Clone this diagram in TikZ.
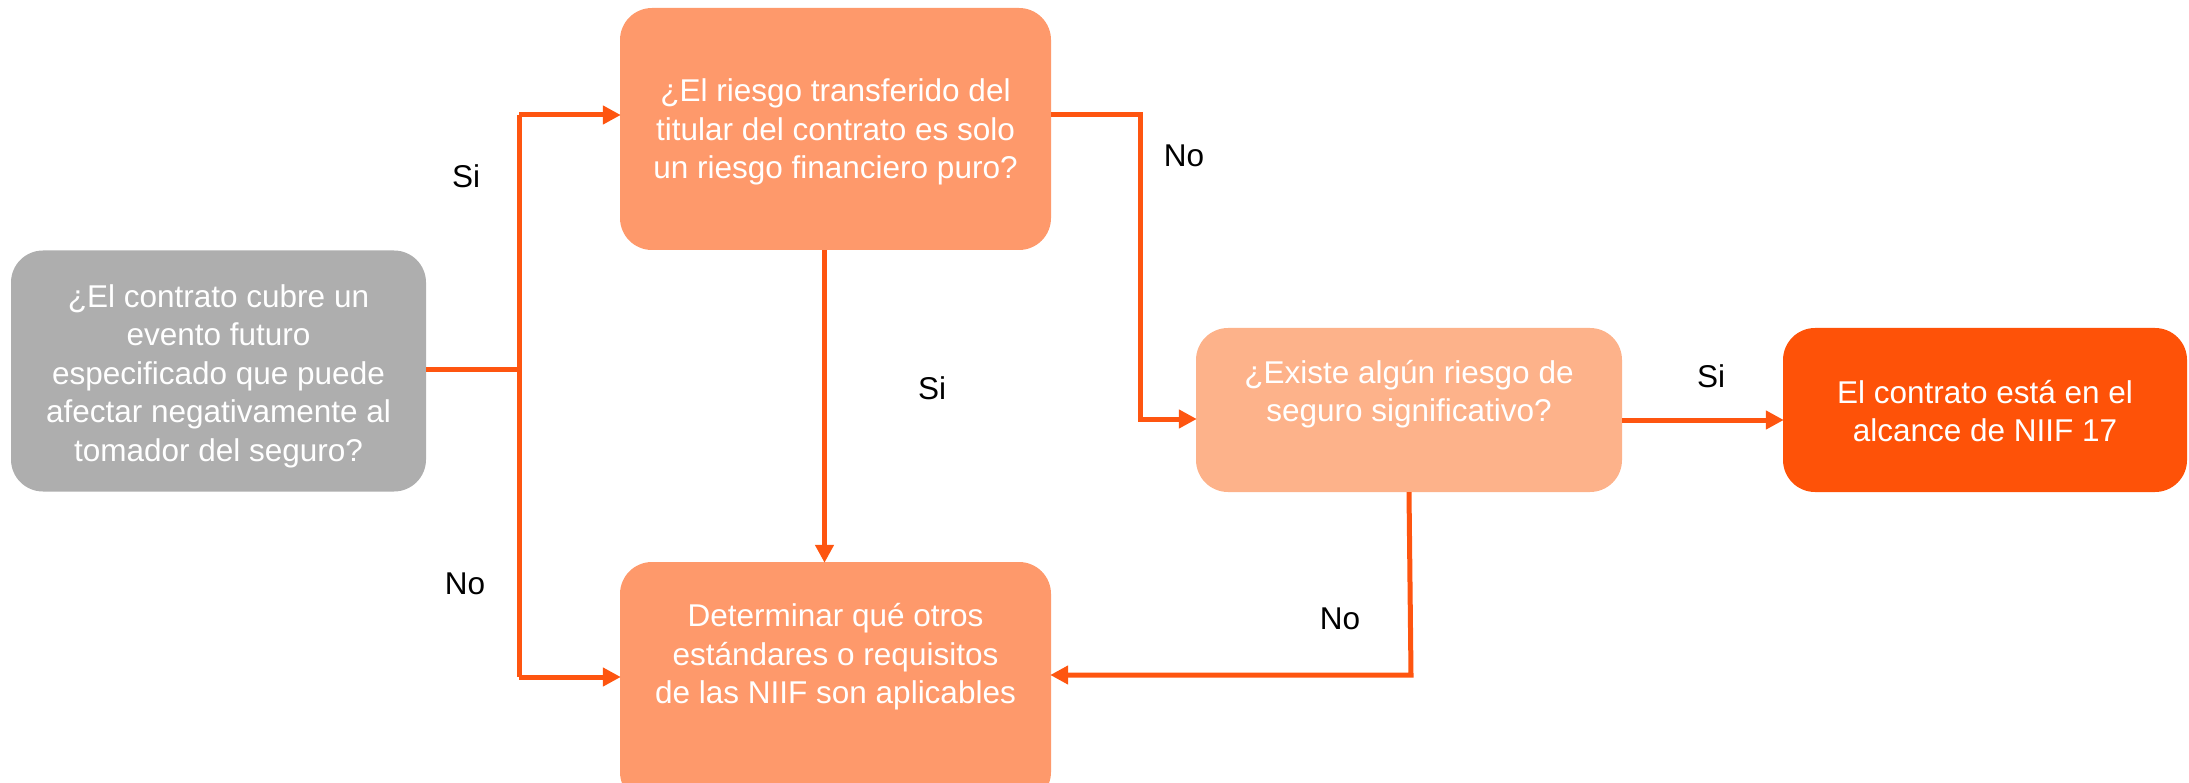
\documentclass[tikz,border=0pt]{standalone}
\usepackage{fontspec}
\setmainfont{Liberation Sans}
\usetikzlibrary{arrows.meta}
\definecolor{cgray}{HTML}{AEAEAE}
\definecolor{cmid}{HTML}{FE996B}
\definecolor{clight}{HTML}{FDB28A}
\definecolor{cstrong}{HTML}{FE5208}
\definecolor{cline}{HTML}{FE5510}
\tikzset{
  box/.style={rounded corners=32pt, inner sep=0pt, align=center, text=white,
    font=\fontsize{31.5}{38.5}\selectfont},
  txt/.style={align=center, text=white, font=\fontsize{31.5}{38.5}\selectfont},
  lbl/.style={font=\fontsize{31.5}{38}\selectfont, text=black},
  conn/.style={draw=cline, line width=5pt},
  arr/.style={conn, -{Triangle[length=18pt,width=18pt]}, shorten >=-1pt},
}
\begin{document}
\begin{tikzpicture}[x=1pt,y=-1pt]
\useasboundingbox (0,0) rectangle (2189,783);
\clip (0,0) rectangle (2189,783);
% boxes
\node[box, fill=cgray, minimum width=415pt, minimum height=241pt,
  label={[txt, yshift=-5pt]center:¿El contrato cubre un\\evento futuro\\especificado que puede\\afectar negativamente al\\tomador del seguro?}] (gray) at (218.5,371) {};
\node[box, fill=cmid, minimum width=431pt, minimum height=242pt,
  label={[txt, yshift=-3pt]center:¿El riesgo transferido del\\titular del contrato es solo\\un riesgo financiero puro?}] (top) at (835.5,129) {};
\node[box, fill=cmid, minimum width=431pt, minimum height=242pt,
  label={[txt, yshift=26pt]center:Determinar qué otros\\estándares o requisitos\\de las NIIF son aplicables}] (bot) at (835.5,683) {};
\node[box, fill=clight, minimum width=426pt, minimum height=164pt,
  label={[txt, yshift=16pt]center:¿Existe algún riesgo de\\seguro significativo?}] (mid) at (1409,410) {};
\node[box, fill=cstrong, minimum width=404pt, minimum height=164pt,
  label={[txt, yshift=-1pt]center:El contrato está en el\\alcance de NIIF 17}] (fin) at (1985,410) {};
% connectors
\coordinate (j) at (519,369);
\coordinate (jt) at (519,115);
\coordinate (jb) at (519,677);
\coordinate (rt) at (1140,115);
\coordinate (rb) at (1140,419);
\coordinate (mb) at (1411,675);
\coordinate (me) at (1622,420);
\draw[conn] (gray.east |- j) -- (j);
\draw[conn] (jt) -- (jb);
\draw[arr] (jt) -- (jt -| top.west);
\draw[arr] (jb) -- (jb -| bot.west);
\draw[arr] ([xshift=-11pt]top.south) -- ([xshift=-11pt]top.south |- bot.north);
\draw[arr] (rt -| top.east) -- (rt) -- (rb) -- (rb -| mid.west);
\draw[arr] (mid.south) -- (mb) -- (mb -| bot.east);
\draw[arr] (me) -- (me -| fin.west);
% labels
\node[lbl] (l1) at (466,176) {Si};
\node[lbl] (l2) at (465,584) {No};
\node[lbl] (l3) at (932,388) {Si};
\node[lbl] (l4) at (1184,156) {No};
\node[lbl] (l5) at (1711,376) {Si};
\node[lbl] (l6) at (1340,619) {No};
\end{tikzpicture}
\end{document}
